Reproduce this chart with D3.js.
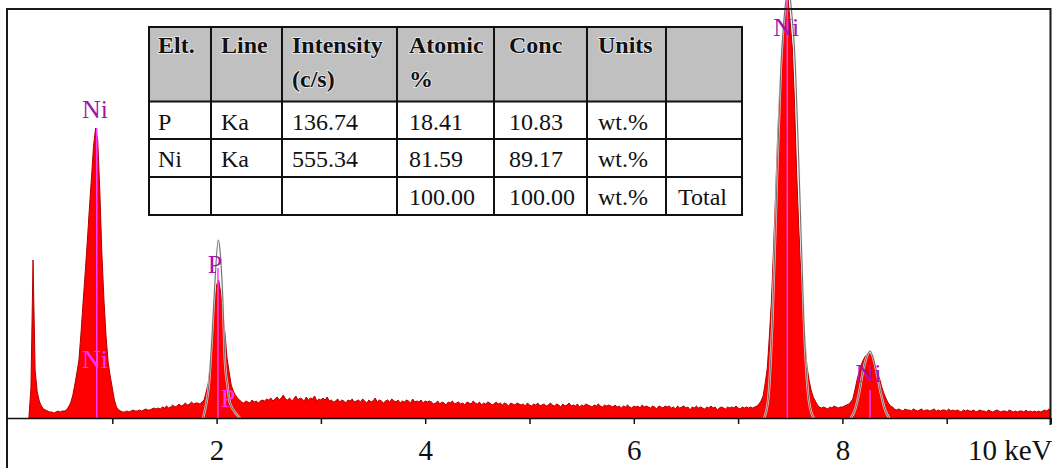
<!DOCTYPE html>
<html>
<head>
<meta charset="utf-8">
<script src="https://cdn.jsdelivr.net/npm/d3@7"></script>
<style>
  html, body { margin: 0; padding: 0; background: #fff; }
  svg { display: block; }
</style>
</head>
<body>
<svg id="chart" width="1052" height="468"></svg>
<script>
// ---------------- DATA ----------------
const spectrumStep = 0.02;
const spectrumCounts = [
  0,0,0,0,0,0,0,0,0,0,0,
  30,158,48,26,17,12,9,8,7,6,
  6,5,6,7,6,7,7,
  8,11,15,22,33,45,58,85,116,145,176,209,240,272,290,278,228,165,118,82,56,42,30,18,11,8,
  7,6,6,7,6,7,8,7,7,8,7,8,9,8,8,9,10,
  9,10,9,11,10,12,10,11,13,11,12,14,12,13,15,13,14,16,14,15,15,
  14,16,18,26,35,55,80,112,133,138,125,105,85,60,46,33,27,23,20,18,
  16,15,17,16,15,18,16,17,15,17,18,
  17,19,18,20,17,19,21,18,20,23,19,18,20,17,19,22,18,20,19,17,21,18,20,19,22,17,19,18,20,18,21,17,
  18,16,17,19,16,18,17,15,18,17,19,16,17,18,16,19,17,15,18,16,17,20,16,18,17,15,17,18,16,19,
  17,16,18,15,17,16,18,17,15,19,16,17,16,18,15,17,16,17,
  16,14,15,17,14,16,15,13,16,15,17,14,15,16,14,15,13,16,15,14,17,15,14,16,13,15,14,16,15,13,
  14,16,14,15,13,15,14,12,15,14,13,15,14,
  13,14,12,15,13,12,14,13,15,12,13,14,12,13,15,13,12,14,13,11,14,12,13,15,12,13,12,14,11,13,
  12,14,13,12,11,13,12,14,12,11,13,12,13,
  12,11,13,11,12,10,12,11,13,11,10,12,11,12,10,13,11,12,11,10,12,11,9,12,11,10,12,11,12,10,
  11,9,12,10,11,12,10,11,8,11,10,12,10,11,10,9,11,10,12,10,11,8,10,11,10,9,11,10,11,10,
  12,10,9,11,10,11,10,11,10,
  11,12,14,17,22,35,50,82,118,170,225,285,330,370,395,418,418,395,370,318,250,195,150,110,78,52,38,28,21,17,13,11,
  10,11,10,9,11,10,12,11,10,11,
  11,12,13,14,16,19,28,38,46,53,58,62,64,65,63,58,50,44,38,30,24,19,15,12,11,
  9,8,9,8,7,9,8,8,7,9,8,7,8,9,7,8,8,7,8,9,7,8,7,8,8,7,9,7,8,7,
  8,7,6,8,7,8,7,7,8,6,7,8,7,7,6,8,7,6,7,8,7,6,7,7,6,8,7,6,7,6,
  7,7,6,8,6,7,6,7,6,7,6,7,8,7,9,8
];

// fitted peak outlines (energy keV, counts)
const pFitEnergy  = [1.87, 1.889, 1.93, 1.959, 1.985, 2.016, 2.035, 2.059, 2.081, 2.105, 2.128, 2.198, 2.224];
const pFitCounts  = [0, 8, 38, 88, 138, 178, 165, 121, 55, 32, 15, 3, 0];
const niKaFitEnergy = [7.25, 7.29, 7.33, 7.37, 7.41, 7.45, 7.48, 7.51, 7.55, 7.59, 7.63, 7.67, 7.71, 7.73];
const niKaFitCounts = [0, 20, 100, 230, 350, 410, 430, 410, 350, 230, 100, 25, 3, 0];
const niKbFitEnergy = [8.08, 8.12, 8.16, 8.20, 8.24, 8.265, 8.29, 8.33, 8.37, 8.41, 8.45];
const niKbFitCounts = [0, 8, 25, 48, 63, 67, 62, 45, 24, 8, 0];

// element line markers
const markerEnergy = [0.851, 2.013, 7.472, 8.265];
const markerCounts = [290, 150, 418, 28];

// element labels
const labelText   = ["Ni", "Ni", "P", "P", "Ni", "Ni"];
const labelEnergy = [0.835, 0.835, 1.985, 2.109, 7.462, 8.25];
const labelCounts = [300, 50, 145, 11.5, 382, 36];

// x axis
const tickValues = [1, 2, 3, 4, 5, 6, 7, 8, 9, 10];
const tickLabels = ["", "2", "", "4", "", "6", "", "8", "", "10 keV"];

// quantification table
const headerLine1 = ["Elt.", "Line", "Intensity", "Atomic", "Conc", "Units", ""];
const headerLine2 = ["", "", "(c/s)", "%", "", "", ""];
const colElement   = ["P", "Ni", ""];
const colLine      = ["Ka", "Ka", ""];
const colIntensity = ["136.74", "555.34", ""];
const colAtomic    = ["18.41", "81.59", "100.00"];
const colConc      = ["10.83", "89.17", "100.00"];
const colUnits     = ["wt.%", "wt.%", "wt.%"];
const colExtra     = ["", "", "Total"];

// ---------------- DRAW ----------------
const SERIF = "'Liberation Serif', 'Times New Roman', Times, serif";
const svg = d3.select("#chart").attr("font-family", SERIF);
const X0 = 8, X1 = 1051, YTOP = 9, YBASE = 418;
const x = d3.scaleLinear().domain([0, 10]).range([X0, X1]);
const y = d3.scaleLinear().domain([0, 409]).range([YBASE, YTOP]);

const spectrum = spectrumCounts.map((c, i) => ({ e: i * spectrumStep, c }));

// spectrum fill
svg.append("path")
  .datum(spectrum)
  .attr("d", d3.area().x(d => x(d.e)).y0(y(0)).y1(d => y(d.c)))
  .attr("fill", "#ff0000");
svg.append("path")
  .datum(spectrum.filter(d => d.e >= 0.2))
  .attr("d", d3.line().x(d => x(d.e)).y(d => y(d.c)))
  .attr("fill", "none")
  .attr("stroke", "#b40000")
  .attr("stroke-width", 1);

// fit outlines
const fitLine = d3.line().x(d => x(d[0])).y(d => y(d[1])).curve(d3.curveMonotoneX);
[[pFitEnergy, pFitCounts], [niKaFitEnergy, niKaFitCounts], [niKbFitEnergy, niKbFitCounts]].forEach(([es, cs]) => {
  const pts = es.map((e, i) => [e, cs[i]]);
  svg.append("path").datum(pts).attr("d", fitLine)
    .attr("fill", "none").attr("stroke", "#f4f4f4").attr("stroke-width", 2.4).attr("opacity", 0.8);
  svg.append("path").datum(pts).attr("d", fitLine)
    .attr("fill", "none").attr("stroke", "#707070").attr("stroke-width", 1.1);
});

// markers
svg.append("g").selectAll("line")
  .data(markerEnergy.map((e, i) => ({ e, c: markerCounts[i] })))
  .join("line")
  .attr("x1", d => x(d.e)).attr("x2", d => x(d.e))
  .attr("y1", y(0)).attr("y2", d => y(d.c))
  .attr("stroke", "#ff3cff").attr("stroke-width", 1.5);

// frame
svg.append("line").attr("x1", 7).attr("x2", X1).attr("y1", YTOP).attr("y2", YTOP)
  .attr("stroke", "#1a1a1a").attr("stroke-width", 2);
svg.append("line").attr("x1", 7).attr("x2", 7).attr("y1", YTOP - 1).attr("y2", 468)
  .attr("stroke", "#1a1a1a").attr("stroke-width", 2);
svg.append("line").attr("x1", 1050.5).attr("x2", 1050.5).attr("y1", YTOP - 1).attr("y2", YBASE + 7)
  .attr("stroke", "#1a1a1a").attr("stroke-width", 2);
svg.append("line").attr("x1", 7).attr("x2", X1).attr("y1", YBASE + 0.5).attr("y2", YBASE + 0.5)
  .attr("stroke", "#111").attr("stroke-width", 1.6);

// x axis
const axis = d3.axisBottom(x).tickValues(tickValues).tickSize(6)
  .tickFormat((d, i) => tickLabels[i]);
const gAxis = svg.append("g").attr("transform", `translate(0,${YBASE})`).call(axis)
  .attr("font-family", SERIF);
gAxis.select(".domain").remove();
gAxis.selectAll(".tick line").attr("stroke", "#111").attr("stroke-width", 1.5);
gAxis.selectAll(".tick text")
  .attr("y", 42).attr("dy", 0)
  .attr("font-family", SERIF)
  .attr("font-size", 29).attr("fill", "#111")
  .each(function (d, i) {
    if (tickLabels[i] === "10 keV") {
      d3.select(this).attr("text-anchor", "end").attr("x", X1 - x(d) + 1);
    }
  });

// labels: bright magenta when sitting low inside a peak, purple otherwise
function countAt(e) {
  const i = Math.round(e / spectrumStep);
  return spectrumCounts[Math.max(0, Math.min(spectrumCounts.length - 1, i))];
}
svg.append("g").selectAll("text")
  .data(labelText.map((t, i) => ({ t, e: labelEnergy[i], c: labelCounts[i] })))
  .join("text")
  .attr("x", d => x(d.e)).attr("y", d => y(d.c))
  .attr("text-anchor", "middle")
  .attr("font-family", SERIF)
  .attr("font-size", 26)
  .attr("fill", d => (d.c < 0.5 * countAt(d.e) ? "#ff33ff" : "#a414b4"))
  .text(d => d.t);

// table
const colEdges = [149, 211, 282, 397, 494, 587, 666, 742];
const rowEdges = [27, 101.5, 139, 177, 215];
const textPad = [9, 10, 10, 12, 15, 11, 12];
const gT = svg.append("g").attr("font-family", SERIF);
gT.append("rect").attr("x", colEdges[0]).attr("y", rowEdges[0])
  .attr("width", colEdges[7] - colEdges[0]).attr("height", rowEdges[1] - rowEdges[0])
  .attr("fill", "#c0c0c0");
gT.append("rect").attr("x", colEdges[0]).attr("y", rowEdges[1])
  .attr("width", colEdges[7] - colEdges[0]).attr("height", rowEdges[4] - rowEdges[1])
  .attr("fill", "#ffffff");
rowEdges.forEach(ry => {
  gT.append("line").attr("x1", colEdges[0] - 1).attr("x2", colEdges[7] + 1).attr("y1", ry).attr("y2", ry)
    .attr("stroke", "#111").attr("stroke-width", 2);
});
colEdges.forEach(cx => {
  gT.append("line").attr("x1", cx).attr("x2", cx).attr("y1", rowEdges[0]).attr("y2", rowEdges[4])
    .attr("stroke", "#111").attr("stroke-width", 2);
});
function headerText(lines, dy) {
  lines.forEach((t, i) => {
    gT.append("text").attr("x", colEdges[i] + textPad[i]).attr("y", rowEdges[0] + dy)
      .attr("font-family", SERIF)
      .attr("font-size", 24).attr("font-weight", "bold").attr("fill", "#111")
      .attr("stroke", "#f0f0f0").attr("stroke-width", 1.5).attr("paint-order", "stroke")
      .text(t);
  });
}
headerText(headerLine1, 26);
headerText(headerLine2, 60);
const columns = [colElement, colLine, colIntensity, colAtomic, colConc, colUnits, colExtra];
columns.forEach((col, ci) => {
  col.forEach((t, ri) => {
    gT.append("text").attr("x", colEdges[ci] + textPad[ci]).attr("y", rowEdges[ri + 1] + 28)
      .attr("font-family", SERIF)
      .attr("font-size", 24).attr("fill", "#111").text(t);
  });
});
</script>
</body>
</html>
